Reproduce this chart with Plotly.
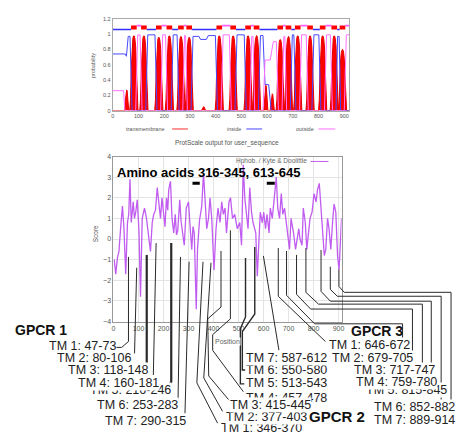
import plotly.graph_objects as go

W, H = 458, 438
FONT = "Liberation Sans, Arial, sans-serif"

# ---------------- data ----------------
# TMHMM-style posterior panel: predicted helices
helix_start = [71, 110, 168, 209, 254, 286, 403, 457, 515, 548, 640, 672, 708, 756, 805, 850, 882]
helix_end = [93, 132, 190, 231, 276, 308, 425, 479, 537, 570, 662, 694, 730, 778, 827, 872, 904]
helix_peak = [0.98, 0.98, 0.96, 0.98, 0.97, 0.96, 0.98, 0.98, 0.98, 0.98, 0.93, 0.97, 0.98, 0.98, 0.98, 0.98, 0.80]
# weak transmembrane signals that are not called helices
minor_pos = [54, 353, 595, 620]
minor_peak = [0.27, 0.05, 0.33, 0.22]

# posterior probability of the inside / outside states
inside_x = [0, 48, 53, 60, 67, 75, 128, 136, 164, 172, 227, 235, 250, 258,
            304, 312, 335, 341, 364, 371, 399, 407, 475, 483, 511, 519,
            566, 574, 584, 592, 606, 616, 690, 698, 704, 712, 774, 782, 801, 809,
            868, 874, 880, 886, 919]
inside_y = [0.74, 0.74, 0.71, 0.97, 0.97, 0, 0, 0.99, 0.99, 0, 0, 0.99, 0.99, 0,
            0, 0.97, 0.97, 0.93, 0.93, 0.98, 0.98, 0, 0, 0.99, 0.99, 0,
            0, 0.98, 0.98, 0.34, 0.34, 0, 0, 0.99, 0.99, 0, 0, 0.99, 0.99, 0,
            0, 0.97, 0.97, 0, 0]
outside_x = [0, 42, 47, 89, 97, 106, 114, 186, 194, 205, 213, 272, 279, 283, 290,
             421, 429, 453, 461, 533, 540, 545, 552, 584, 592, 612, 624, 636, 644,
             658, 665, 669, 676, 726, 734, 752, 760, 823, 831, 846, 854, 900, 908, 919]
outside_y = [0.26, 0.26, 0, 0, 0.99, 0.99, 0, 0, 0.99, 0.99, 0, 0, 0.98, 0.98, 0,
             0, 0.99, 0.99, 0, 0, 0.97, 0.97, 0, 0, 0.66, 0.66, 0.9, 0.9, 0,
             0, 0.97, 0.97, 0, 0, 0.99, 0.99, 0, 0, 0.99, 0.99, 0, 0, 0.99, 0.99]

# Kyte & Doolittle hydropathy profile
kd_pos = [3, 9, 16, 22, 29, 36, 42, 49, 56, 61,
          66, 71, 79, 84, 89, 95, 102, 108, 115, 124,
          132, 142, 148, 155, 161, 168, 175, 181, 188, 194,
          201, 206, 212, 217, 221, 228, 234, 241, 247, 252,
          257, 265, 270, 274, 283, 291, 300, 307, 313, 318,
          323, 331, 336, 344, 353, 360, 366, 373, 380, 386,
          393, 402, 410, 418, 426, 433, 439, 446, 452, 462,
          468, 476, 485, 495, 505, 512, 519, 525, 532, 538,
          545, 552, 558, 569, 575, 582, 587, 595, 601, 608,
          614, 622, 627, 635, 644, 651, 657, 664, 671, 677,
          684, 690, 697, 704, 710, 720, 728, 733, 741, 746,
          754, 759, 767, 773, 780, 786, 794, 802, 810, 816,
          823, 829, 836, 843, 849, 856, 862, 869, 876, 882,
          889, 896, 902, 909, 912]
kd_val = [-1.0, -1.7, -0.9, -0.6, 0.6, 1.6, 0.5, -1.7, 0.8, 1.2,
          2.9, 0.8, 1.8, 1.0, 1.3, 1.9, 0.4, -2.8, 1.0, 1.5,
          1.0, 0.0, -0.6, 0.8, 1.2, 1.4, 2.5, 1.8, 1.0, 2.0,
          1.2, 0.6, 2.0, 1.4, 2.4, 2.8, 1.0, 0.3, 1.2, 0.2,
          0.4, 1.9, 0.9, 0.6, -0.3, 1.5, 1.8, 0.5, -0.5, 0.6,
          0.3, -3.4, -0.5, 0.9, 1.6, 3.2, 1.8, 0.5, 1.0, 2.0,
          1.0, -1.5, 0.5, 1.5, 0.8, 1.8, 1.2, 1.5, 0.3, 1.8,
          2.0, 1.0, 1.2, 0.5, 0.8, -0.3, 3.6, 2.0, 1.2, 0.5,
          2.5, 1.3, 0.8, 0.3, -1.8, 0.5, 1.3, 0.8, 1.3, 0.5,
          1.2, 0.3, 1.5, 1.0, 2.2, 3.0, 1.5, 1.0, 2.2, 1.2,
          1.5, 0.8, 0.0, -0.5, 1.0, 0.3, -0.5, 0.0, 0.5, 0.0,
          -0.3, 1.5, 0.8, -0.5, 0.5, 1.0, 1.3, 2.2, 1.8, 2.4,
          2.7, 1.5, 0.0, -0.8, -0.5, 1.0, 0.5, -0.5, 0.8, 1.7,
          1.3, -0.8, -1.5, 1.0, 1.0]

# hydrophobic stretches flagged on the hydropathy plot
region_start = [316, 613]
region_end = [345, 645]
region_level = 2.7

# transmembrane segments of the three GPCR units
gpcr_names = ["GPCR 1", "GPCR 2", "GPCR 3"]
gpcr1_start = [47, 80, 118, 160, 216, 253, 290]
gpcr1_end = [73, 106, 148, 181, 246, 283, 315]
gpcr2_start = [346, 377, 415, 457, 513, 550, 587]
gpcr2_end = [370, 403, 445, 478, 543, 580, 612]
gpcr3_start = [646, 679, 717, 759, 815, 852, 889]
gpcr3_end = [672, 705, 747, 780, 845, 882, 914]

# ---------------- layout geometry (pixels) ----------------
T_L, T_R, T_T, T_B = 112, 351, 15, 108.3
T_RANGE = [0, 919]
B_L, B_R, B_T, B_B = 112.7, 343.3, 155, 322.7
B_RANGE = [0, 912]


def px(x):
    return x / W


def py(y):
    return 1 - y / H


def pos_to_px(pos):
    return B_L + (pos - B_RANGE[0]) * (B_R - B_L) / (B_RANGE[1] - B_RANGE[0])


fig = go.Figure()

# ---------------- top panel ----------------
HELIX_DX = [-16, -13, -10, -7, -4, -1.5, 0, 1.5, 4, 7, 10, 13, 16]
HELIX_FR = [0, 0.15, 0.55, 0.85, 0.96, 0.995, 1, 0.995, 0.96, 0.85, 0.55, 0.15, 0]
MINOR_DX = [-8, -5, -2, 0, 2, 5, 8]
MINOR_FR = [0, 0.5, 0.95, 1, 0.95, 0.5, 0]

bumps = [((s + e) / 2, h, HELIX_DX, HELIX_FR) for s, e, h in zip(helix_start, helix_end, helix_peak)]
bumps += [(c, h, MINOR_DX, MINOR_FR) for c, h in zip(minor_pos, minor_peak)]
bumps.sort(key=lambda b: b[0])
tm_x, tm_y = [T_RANGE[0]], [0]
for c, h, dxs, frs in bumps:
    tm_x += [c + d for d in dxs]
    tm_y += [h * f for f in frs]
tm_x.append(T_RANGE[1])
tm_y.append(0)

fig.add_trace(go.Scatter(x=tm_x, y=tm_y, mode="lines", fill="tozeroy",
                         fillcolor="#ff0000", line=dict(color="#e60000", width=1),
                         xaxis="x", yaxis="y", hoverinfo="skip"))
fig.add_trace(go.Scatter(x=inside_x, y=inside_y, mode="lines",
                         line=dict(color="#4848ff", width=1), xaxis="x", yaxis="y", hoverinfo="skip"))
fig.add_trace(go.Scatter(x=outside_x, y=outside_y, mode="lines",
                         line=dict(color="#ff70ff", width=1), xaxis="x", yaxis="y", hoverinfo="skip"))

# topology track above the posterior curves
loop_bounds = [T_RANGE[0]] + [v for pair in zip(helix_start, helix_end) for v in pair] + [T_RANGE[1]]
loops = [(loop_bounds[2 * i], loop_bounds[2 * i + 1]) for i in range(len(helix_start) + 1)]
in_x, in_y, out_x, out_y = [], [], [], []
for i, (a, b) in enumerate(loops):
    if i % 2 == 0:
        in_x += [a, b, None]
        in_y += [1.06, 1.06, None]
    else:
        out_x += [a, b, None]
        out_y += [1.11, 1.11, None]
fig.add_trace(go.Scatter(x=in_x, y=in_y, mode="lines", line=dict(color="#3030ff", width=1.6),
                         xaxis="x", yaxis="y", hoverinfo="skip"))
fig.add_trace(go.Scatter(x=out_x, y=out_y, mode="lines", line=dict(color="#ff60ff", width=1.6),
                         xaxis="x", yaxis="y", hoverinfo="skip"))
hx, hy = [], []
for s, e in zip(helix_start, helix_end):
    hx += [s, e, None]
    hy += [1.085, 1.085, None]
fig.add_trace(go.Scatter(x=hx, y=hy, mode="lines", line=dict(color="#ff0000", width=4),
                         xaxis="x", yaxis="y", hoverinfo="skip"))

# ---------------- bottom panel ----------------
fig.add_trace(go.Scatter(x=kd_pos, y=kd_val, mode="lines",
                         line=dict(color="#c15cf0", width=1.3),
                         xaxis="x2", yaxis="y2", hoverinfo="skip"))
rx, ry = [], []
for s, e in zip(region_start, region_end):
    rx += [s, e, None]
    ry += [region_level, region_level, None]
fig.add_trace(go.Scatter(x=rx, y=ry, mode="lines", line=dict(color="black", width=3),
                         xaxis="x2", yaxis="y2", hoverinfo="skip"))

small = dict(family=FONT, color="#555")
annotations = []
shapes = []


def text(x, y, s, size, color="#555", anchor="center", angle=0, bold=False, bg=None):
    annotations.append(dict(
        x=px(x), y=py(y), xref="paper", yref="paper", showarrow=False,
        text=f"<b>{s}</b>" if bold else s, textangle=angle,
        xanchor=anchor, yanchor="middle",
        font=dict(family=FONT, size=size, color=color),
        bgcolor=bg, borderpad=0))


def hline(x0, x1, y, color, width):
    shapes.append(dict(type="line", xref="paper", yref="paper",
                       x0=px(x0), x1=px(x1), y0=py(y), y1=py(y),
                       line=dict(color=color, width=width)))


# top panel titles and legend
text(92, 62, "probability", 5.5, angle=-90)
text(166, 127, "transmembrane", 5.5, anchor="right")
hline(172, 188, 127, "#ff3030", 1)
text(243, 127, "inside", 5.5, anchor="right")
hline(247, 263, 127, "#4848ff", 1)
text(316, 127, "outside", 5.5, anchor="right")
hline(320, 337, 127, "#ff70ff", 1)
text(227, 141, "ProtScale output for user_sequence", 6.5)

# bottom panel titles and legend
text(94, 233, "Score", 6.5, angle=-90)
text(309, 160, "Hphob. / Kyte &amp; Doolittle", 6.5, anchor="right", color="#666")
hline(312, 330, 160, "#c15cf0", 1)
region_txt = ", ".join(f"{s}-{e}" for s, e in zip(region_start, region_end))
text(115, 171, f"Amino acids {region_txt}", 13, color="#000", anchor="left", bold=True)

# ---------------- GPCR callouts ----------------
groups = [
    dict(start=gpcr1_start, end=gpcr1_end, title_xy=(12, 331),
         label_xy=[(47, 348), (55, 360), (66, 372), (76, 385), (88, 392), (95, 408), (103, 424)],
         order=[0, 1, 2, 4, 3, 5, 6],
         top=[257, 268, 255, 243, 243, 257, 262],
         drop=[343, None, 365, None, 384, None, None],
         pts=[[(121, 349), (114, 349)], [(134, 355)], [], [(153, 377)], [(167, 389)],
              [(178, 401)], [(185, 416)]],
         width=[1, 1, 2.2, 1, 2.2, 1, 1]),
    dict(start=gpcr2_start, end=gpcr2_end, title_xy=(309, 419),
         label_xy=[(220, 431), (225, 420), (230, 408), (246, 400), (246, 385), (246, 372), (246, 360)],
         order=[0, 1, 3, 2, 4, 5, 6],
         top=[262, 263, 251, 230, 258, 247, 256],
         drop=[None, None, 308, 320, 318, 315, None],
         pts=[[(197, 385), (218, 426)], [(204, 380), (223, 414)],
              [(208, 320), (209, 378), (229, 402)],
              [(213, 336), (213, 352), (244, 394)],
              [(241, 330), (241, 386), (245, 386)],
              [(243, 333), (243, 372), (246, 372)],
              [(280, 352)]],
         width=[1, 1, 1, 1, 1.4, 1.4, 1]),
    dict(start=gpcr3_start, end=gpcr3_end, title_xy=(352, 332),
         label_xy=[(330, 347), (333, 360), (355, 372), (357, 384), (367, 392), (375, 410), (375, 423)],
         order=[0, 1, 2, 4, 3, 5, 6],
         top=[248, 251, 255, 248, 250, 267, 270],
         drop=[297, 296, 295, 293, 292, 290, 287],
         pts=[[(327, 343)],
              [(316, 325), (405, 325), (405, 354)],
              [(312, 310), (415, 310), (415, 366)],
              [(320, 305), (425, 305), (425, 378)],
              [(332, 302), (434, 302), (434, 388)],
              [(339, 297), (444, 297), (444, 403)],
              [(346, 293), (454, 293), (454, 416)]],
         width=[1, 1, 1, 1, 1, 1, 1]),
]

for gi, g in enumerate(groups):
    for k, (s, e) in enumerate(zip(g["start"], g["end"])):
        sx = pos_to_px((s + e) / 2)
        path_pts = [(sx, g["top"][k])]
        if g["drop"][k] is not None:
            path_pts.append((sx, g["drop"][k]))
        path_pts += g["pts"][k]
        d = "M " + " L ".join(f"{px(x):.5f},{py(y):.5f}" for x, y in path_pts)
        shapes.append(dict(type="path", path=d, xref="paper", yref="paper", layer="above",
                           line=dict(color="#2a2a2a", width=g["width"][k])))
    tx, ty = g["title_xy"]
    text(tx, ty, gpcr_names[gi], 15 if gi == 1 else 14, color="#111", anchor="left", bold=True)
    for k in g["order"]:
        lx, ly = g["label_xy"][k]
        text(lx, ly, f"TM {k + 1}: {g['start'][k]}-{g['end'][k]}", 12.5, color="#222",
             anchor="left", bg="white")

text(228, 343, "Position", 7, color="#666", bg="white")

axis_common = dict(showline=True, mirror=True, zeroline=False, ticks="",
                   linewidth=1)
fig.update_layout(
    width=W, height=H, margin=dict(l=0, r=0, t=0, b=0),
    paper_bgcolor="white", plot_bgcolor="white", showlegend=False,
    xaxis=dict(domain=[px(T_L), px(T_R)], range=T_RANGE, anchor="y",
               tickvals=list(range(0, 1000, 100)), showgrid=False,
               tickfont=dict(size=5.5, **small), linecolor="#aaa", **axis_common),
    yaxis=dict(domain=[py(T_B), py(T_T)], range=[0, 1.2], anchor="x",
               tickvals=[0, 0.2, 0.4, 0.6, 0.8, 1.0, 1.2],
               ticktext=["0", "0.2", "0.4", "0.6", "0.8", "1", "1.2"], showgrid=False,
               tickfont=dict(size=5.5, **small), linecolor="#aaa", **axis_common),
    xaxis2=dict(domain=[px(B_L), px(B_R)], range=B_RANGE, anchor="y2",
                tickvals=list(range(0, 1000, 100)), showgrid=True,
                gridcolor="#e4e4e4", gridwidth=0.8,
                tickfont=dict(size=7, **small), linecolor="#999", **axis_common),
    yaxis2=dict(domain=[py(B_B), py(B_T)], range=[-4, 4], anchor="x2", dtick=1,
                showgrid=True, gridcolor="#e4e4e4", gridwidth=0.8,
                tickfont=dict(size=7, **small), linecolor="#999", **axis_common),
    annotations=annotations, shapes=shapes,
)

fig.write_html("out.html")
